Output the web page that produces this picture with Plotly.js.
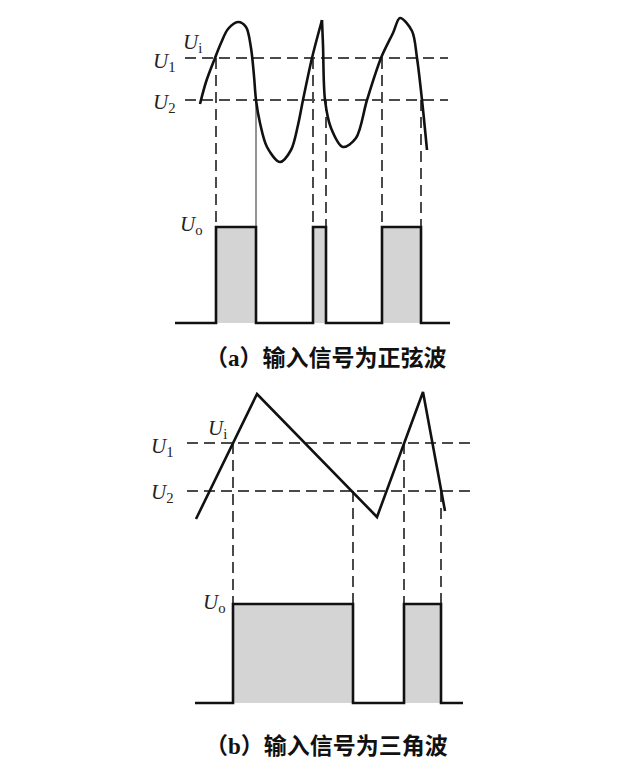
<!DOCTYPE html>
<html>
<head>
<meta charset="utf-8">
<script src="https://cdn.plot.ly/plotly-3.0.1.min.js"></script>
<style>html,body{margin:0;padding:0;background:#fff;}#chart{width:640px;height:770px;}</style>
</head>
<body>
<div id="chart"></div>
<script>
// ---------- Panel (a): sine-like input ----------
const sineT1 = [0, 0.6, 1.5, 2.1, 2.8, 3.8, 4.6, 5.1, 5.4, 5.6, 6.0, 6.7, 8.0, 9.1, 9.8, 10.3, 11.2, 12.2];
const sineV1 = [-0.4, 1.8, 4.2, 5.7, 7.1, 7.8, 7.3, 5.2, 2.4, 0, -2.3, -4.7, -6.2, -5.0, -2.5, 0, 4.2, 8.0];
const sineT2 = [12.2, 12.3, 12.5, 13.1, 14.3, 15.6, 16.7, 18.1, 19.3, 20.0, 21.2, 21.7, 22.2, 22.7];
const sineV2 = [8.0, 5.5, 0, -2.8, -4.7, -3.8, 0, 4.2, 6.7, 8.2, 6.9, 4.2, 0, -5.0];
const thresholdsA = [4.2, 0];            // U1, U2
const thresholdSpanA = [-1.5, 24.8];
const riseA = [1.6, 11.3, 18.2];
const fallA = [5.6, 12.6, 22.1];
const outLevelsA = [-22.3, -12.7];       // low, high (Uo)
const outSpanA = [-2.5, 25];
const captionA = "（a）输入信号为正弦波";

// ---------- Panel (b): triangle input ----------
const triT = [0, 6.1, 18.1, 22.7, 24.9];
const triV = [-2.8, 9.7, -2.6, 9.9, -2.0];
const thresholdsB = [4.8, 0];
const thresholdSpanB = [-0.9, 27.4];
const riseB = [3.7, 20.8];
const fallB = [15.7, 24.5];
const outLevelsB = [-21.2, -11.3];
const outSpanB = [-0.1, 26.7];
const captionB = "（b）输入信号为三角波";

const labels = ["U<sub>1</sub>", "U<sub>2</sub>", "U<sub>i</sub>", "U<sub>o</sub>"];

// ---------- helpers ----------
const BLACK = "#111";
const DASHC = "#4a4a4a";
const FILLC = "#d4d4d4";
const DASH = "11px,6px";

function panel(xa, ya, inputs, thr, thrSpan, rise, fall, lev, span, solidFallIdx) {
  const tr = [];
  for (let i = 0; i < rise.length; i++) {
    tr.push({x: [rise[i], rise[i], fall[i], fall[i], rise[i]], y: [lev[0], lev[1], lev[1], lev[0], lev[0]],
      xaxis: xa, yaxis: ya, mode: "lines", fill: "toself", fillcolor: FILLC, line: {width: 0}, hoverinfo: "skip"});
  }
  thr.forEach(v => tr.push({x: thrSpan, y: [v, v], xaxis: xa, yaxis: ya, mode: "lines",
    line: {color: DASHC, width: 2, dash: DASH}, hoverinfo: "skip"}));
  rise.forEach(t => tr.push({x: [t, t], y: [thr[0], lev[1]], xaxis: xa, yaxis: ya, mode: "lines",
    line: {color: DASHC, width: 2, dash: DASH}, hoverinfo: "skip"}));
  fall.forEach((t, i) => tr.push({x: [t, t], y: [thr[1], lev[1]], xaxis: xa, yaxis: ya, mode: "lines",
    line: i === solidFallIdx ? {color: "#666", width: 1.4} : {color: DASHC, width: 2, dash: DASH}, hoverinfo: "skip"}));
  const ox = [span[0]], oy = [lev[0]];
  for (let i = 0; i < rise.length; i++) {
    ox.push(rise[i], rise[i], fall[i], fall[i]);
    oy.push(lev[0], lev[1], lev[1], lev[0]);
  }
  ox.push(span[1]); oy.push(lev[0]);
  tr.push({x: ox, y: oy, xaxis: xa, yaxis: ya, mode: "lines", line: {color: BLACK, width: 2.6}, hoverinfo: "skip"});
  inputs.forEach(s => tr.push({x: s[0], y: s[1], xaxis: xa, yaxis: ya, mode: "lines",
    line: {color: BLACK, width: 2.6, shape: s[2] ? "spline" : "linear", smoothing: 0.9}, hoverinfo: "skip"}));
  return tr;
}

const traces = [].concat(
  panel("x", "y", [[sineT1, sineV1, true], [sineT2, sineV2, true]], thresholdsA, thresholdSpanA, riseA, fallA, outLevelsA, outSpanA, 0),
  panel("x2", "y2", [[triT, triV, false]], thresholdsB, thresholdSpanB, riseB, fallB, outLevelsB, outSpanB, -1)
);

const lf = {family: "Liberation Serif, Times New Roman, serif", size: 21, color: "#222"};
const cf = {family: "Liberation Serif, Noto Sans CJK SC, serif", size: 23, color: "#111", weight: 700};
function lab(text, x, y, xr, yr, anchor) {
  return {text: text.replace("U", "<i>U</i>"), x: x, y: y, xref: xr, yref: yr, showarrow: false,
    xanchor: anchor || "center", yanchor: "middle", font: lf};
}
const annotations = [
  lab(labels[0], -2.2, 3.8, "x", "y", "right"),
  lab(labels[1], -2.2, -0.3, "x", "y", "right"),
  lab(labels[2], -0.8, 5.7, "x", "y"),
  lab(labels[3], -0.9, -12.5, "x", "y"),
  lab(labels[0], -2.0, 4.4, "x2", "y2", "right"),
  lab(labels[1], -2.0, -0.2, "x2", "y2", "right"),
  lab(labels[2], 2.1, 6.2, "x2", "y2"),
  lab(labels[3], 1.8, -11.2, "x2", "y2"),
  {text: captionA, x: 12.6, y: -25.8, xref: "x", yref: "y", showarrow: false, font: cf},
  {text: captionB, x: 13.0, y: -25.5, xref: "x2", yref: "y2", showarrow: false, font: cf}
];

const hidden = {showgrid: false, zeroline: false, showticklabels: false, ticks: "", showline: false, fixedrange: true};
const layout = {
  width: 640, height: 770, margin: {l: 0, r: 0, t: 0, b: 0},
  paper_bgcolor: "#fff", plot_bgcolor: "#fff", showlegend: false,
  xaxis: Object.assign({domain: [0, 1], range: [-20, 44], anchor: "y"}, hidden),
  yaxis: Object.assign({domain: [0.5, 1], range: [-28.5, 10], anchor: "x"}, hidden),
  xaxis2: Object.assign({domain: [0, 1], range: [-19.6, 44.4], anchor: "y2"}, hidden),
  yaxis2: Object.assign({domain: [0, 0.5], range: [-27.9, 10.6], anchor: "x2"}, hidden),
  annotations: annotations
};
Plotly.newPlot("chart", traces, layout, {displayModeBar: false, staticPlot: true});
</script>
</body>
</html>
